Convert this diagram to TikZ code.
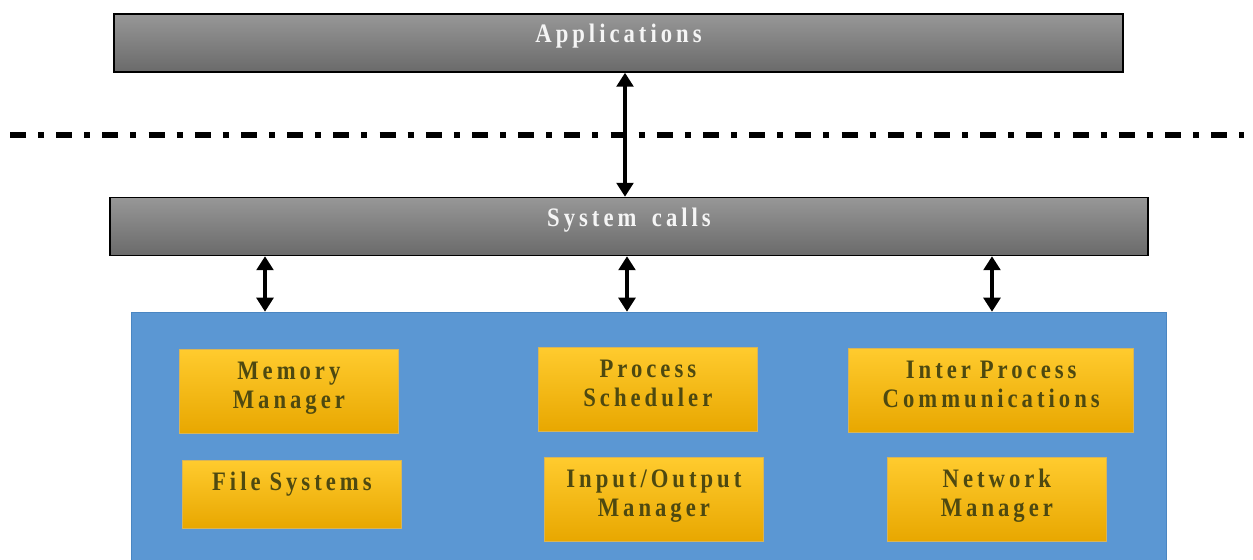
\documentclass[tikz,border=0pt]{standalone}
\usepackage{fontspec}
\setmainfont{Liberation Serif}[FakeStretch=0.85,LetterSpace=15,WordSpace=1.6]
\usetikzlibrary{arrows.meta}
\definecolor{barTop}{HTML}{979797}
\definecolor{barBot}{HTML}{6A6A6A}
\definecolor{kernBlue}{HTML}{5B97D3}
\definecolor{kernLine}{HTML}{4A86C2}
\definecolor{modTop}{HTML}{FFCB2E}
\definecolor{modBot}{HTML}{E8A700}
\definecolor{modLine}{HTML}{D6B45A}
\definecolor{modText}{HTML}{4E4910}
\tikzset{
  bar/.style={draw=black, line width=1.1pt, top color=barTop, bottom color=barBot,
    inner sep=0pt, text height=21.75pt, text depth=21.75pt, text=white!96!black,
    font=\fontsize{20}{21.5}\selectfont\bfseries},
  module/.style={draw=modLine, line width=0.8pt, top color=modTop, bottom color=modBot,
    anchor=north west, inner sep=0pt, text width=164pt, align=center,
    text height=22.5pt, text depth=#1, text=modText,
    font=\fontsize{20}{21.5}\selectfont\bfseries},
  module/.default=40.5pt,
  link/.style={line width=3.5pt, {Triangle[width=12.5pt,length=10.5pt]}-{Triangle[width=12.5pt,length=10.5pt]}},
  sepline/.style={line width=4.25pt, dash pattern=on 12pt off 9pt on 4.5pt off 9.15pt}
}
\begin{document}
\begin{tikzpicture}[x=0.75pt,y=-0.75pt]
\useasboundingbox (0,0) rectangle (1253,560);
\node[bar, minimum width=756.75pt] (app) at (618.5,43) {Applications};
\node[bar, minimum width=778.5pt] (sys) at (629,226.5) {System calls};
\coordinate (l0) at (10,135);
\coordinate (l1) at (1244,135);
\draw[sepline] (l0) -- (l1);
\node[draw=kernLine, fill=kernBlue, inner sep=0pt, minimum width=776.25pt, minimum height=190.5pt] (kern) at (648.5,439) {};
\node[module] (mm) at (179,349) {Memory\\Manager};
\node[module=28.5pt] (fs) at (182,460) {File Systems};
\node[module] (ps) at (538,347) {Process\\Scheduler};
\node[module] (io) at (544,457) {Input/Output\\Manager};
\node[module, text width=214pt] (ipc) at (848,348) {Inter Process\\Communications};
\node[module] (net) at (887,457) {Network\\Manager};
\coordinate (c0) at (625,0);
\coordinate (c1) at (265,0);
\coordinate (c2) at (627,0);
\coordinate (c3) at (992,0);
\draw[link] (app.south -| c0) -- (sys.north -| c0);
\foreach \c in {c1,c2,c3}
  \draw[link] (sys.south -| \c) -- (kern.north -| \c);
\end{tikzpicture}
\end{document}
